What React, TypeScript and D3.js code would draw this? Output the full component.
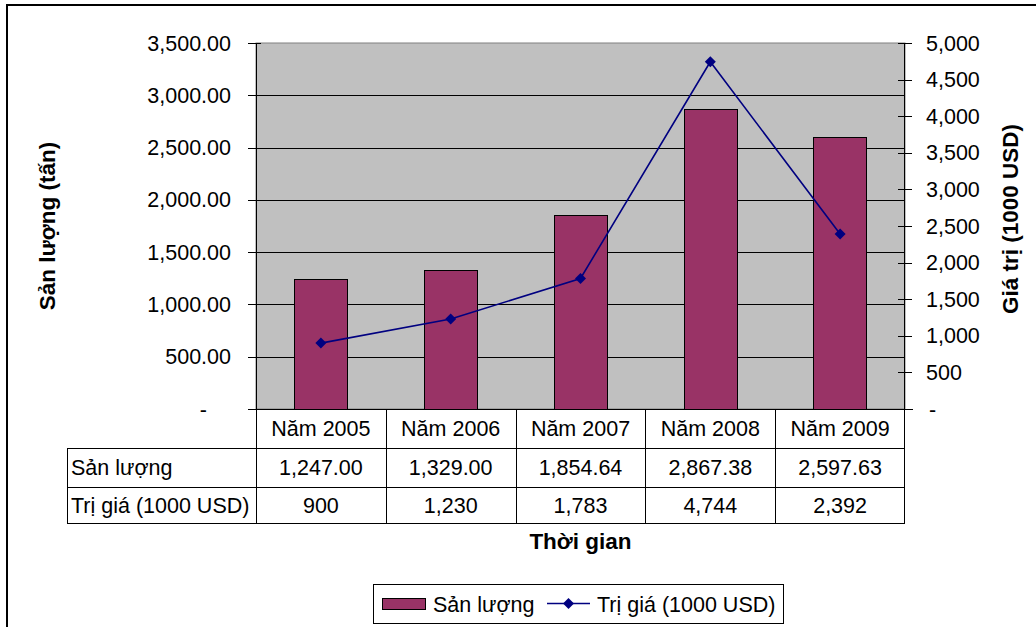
import React from "react";
import * as d3 from "d3";

const categories = ["Năm 2005", "Năm 2006", "Năm 2007", "Năm 2008", "Năm 2009"];
const sanLuong = [1247.0, 1329.0, 1854.64, 2867.38, 2597.63];
const triGia = [900, 1230, 1783, 4744, 2392];
const leftTicks = [0, 500, 1000, 1500, 2000, 2500, 3000, 3500];
const rightTicks = [0, 500, 1000, 1500, 2000, 2500, 3000, 3500, 4000, 4500, 5000];
const rowLabels = ["Sản lượng", "Trị giá (1000 USD)"];

const W = 1036;
const H = 627;
const FONT = "'Liberation Sans', Arial, sans-serif";
const FS = 21.5;
const FSB = 22.5;

const App: React.FC = () => {
  const plot = { left: 256, right: 905, top: 43, bottom: 409 };
  const rowH = [39, 39, 36];
  const tableLeft = 67;

  const x = d3.scaleBand<string>().domain(categories).range([plot.left, plot.right]).padding(0);
  const barW = x.bandwidth() * 0.41;
  const yL = d3.scaleLinear().domain([0, 3500]).range([plot.bottom, plot.top]);
  const yR = d3.scaleLinear().domain([0, 5000]).range([plot.bottom, plot.top]);

  const fmtL = (v: number) => (v === 0 ? "-" : d3.format(",.2f")(v));
  const fmtR = (v: number) => (v === 0 ? "-" : d3.format(",")(v));

  const line = d3
    .line<number>()
    .x((_, i) => (x(categories[i]) as number) + x.bandwidth() / 2)
    .y((d) => yR(d));

  const rowTops = [plot.bottom, plot.bottom + rowH[0], plot.bottom + rowH[0] + rowH[1]];
  const tableBottom = rowTops[2] + rowH[2];

  const diamond = (cx: number, cy: number, r: number) =>
    `M${cx},${cy - r}L${cx + r},${cy}L${cx},${cy + r}L${cx - r},${cy}Z`;

  return (
    <svg
      width={W}
      height={H}
      style={{ position: "absolute", left: 0, top: 0, display: "block" }}
      fontFamily={FONT}
    >
      <rect x={0} y={0} width={W} height={H} fill="#fff" />
      <rect x={7} y={5} width={1060} height={660} fill="#fff" stroke="#000" strokeWidth={2} />

      {/* plot area */}
      <rect
        x={plot.left}
        y={plot.top}
        width={plot.right - plot.left}
        height={plot.bottom - plot.top}
        fill="#C0C0C0"
        stroke="#808080"
        strokeWidth={1}
      />
      {leftTicks
        .filter((t) => t > 0 && t < 3500)
        .map((t) => (
          <line key={"g" + t} x1={plot.left} x2={plot.right} y1={Math.round(yL(t)) + 0.5} y2={Math.round(yL(t)) + 0.5} stroke="#000" />
        ))}

      {/* bars */}
      {sanLuong.map((v, i) => {
        const cx = (x(categories[i]) as number) + x.bandwidth() / 2;
        return (
          <rect
            key={"b" + i}
            x={Math.round(cx - barW / 2) + 0.5}
            y={Math.round(yL(v)) + 0.5}
            width={Math.round(barW)}
            height={Math.round(plot.bottom - yL(v))}
            fill="#993366"
            stroke="#000"
            strokeWidth={1}
          />
        );
      })}

      {/* line */}
      <path d={line(triGia) ?? ""} fill="none" stroke="#000080" strokeWidth={1.6} />
      {triGia.map((v, i) => (
        <path
          key={"m" + i}
          d={diamond((x(categories[i]) as number) + x.bandwidth() / 2, yR(v), 5.5)}
          fill="#000080"
        />
      ))}

      {/* left axis */}
      <line x1={plot.left + 0.5} x2={plot.left + 0.5} y1={plot.top} y2={plot.bottom} stroke="#000" />
      {leftTicks.map((t) => (
        <g key={"l" + t}>
          <line x1={plot.left - 8} x2={plot.left + 5} y1={Math.round(yL(t)) + 0.5} y2={Math.round(yL(t)) + 0.5} stroke="#000" />
          <text
            x={t === 0 ? 207 : 231}
            y={yL(t)}
            dy="0.35em"
            textAnchor="end"
            fontSize={FS}
          >
            {fmtL(t)}
          </text>
        </g>
      ))}

      {/* right axis */}
      <line x1={plot.right - 0.5} x2={plot.right - 0.5} y1={plot.top} y2={plot.bottom} stroke="#000" />
      {rightTicks.map((t) => (
        <g key={"r" + t}>
          <line x1={plot.right - 7} x2={plot.right + 7} y1={Math.round(yR(t)) + 0.5} y2={Math.round(yR(t)) + 0.5} stroke="#000" />
          <text x={t === 0 ? 929 : 926} y={yR(t)} dy="0.35em" textAnchor="start" fontSize={FS}>
            {fmtR(t)}
          </text>
        </g>
      ))}

      {/* data table */}
      <g stroke="#000" strokeWidth={1}>
        <line x1={plot.left - 8} x2={plot.right + 8} y1={plot.bottom + 0.5} y2={plot.bottom + 0.5} />
        <line x1={tableLeft} x2={plot.right} y1={rowTops[1] + 0.5} y2={rowTops[1] + 0.5} />
        <line x1={tableLeft} x2={plot.right} y1={rowTops[2] + 0.5} y2={rowTops[2] + 0.5} />
        <line x1={tableLeft} x2={plot.right} y1={tableBottom + 0.5} y2={tableBottom + 0.5} />
        <line x1={tableLeft + 0.5} x2={tableLeft + 0.5} y1={rowTops[1]} y2={tableBottom} />
        {categories.map((c) => (
          <line
            key={"v" + c}
            x1={Math.round(x(c) as number) + 0.5}
            x2={Math.round(x(c) as number) + 0.5}
            y1={plot.bottom}
            y2={tableBottom}
          />
        ))}
        <line x1={plot.right - 0.5} x2={plot.right - 0.5} y1={plot.bottom} y2={tableBottom} />
      </g>
      {categories.map((c, i) => {
        const cx = (x(c) as number) + x.bandwidth() / 2;
        return (
          <g key={"t" + c} fontSize={FS} textAnchor="middle">
            <text x={cx} y={rowTops[0] + rowH[0] / 2} dy="0.35em">
              {c}
            </text>
            <text x={cx} y={rowTops[1] + rowH[1] / 2} dy="0.35em">
              {d3.format(",.2f")(sanLuong[i])}
            </text>
            <text x={cx} y={rowTops[2] + rowH[2] / 2} dy="0.35em">
              {d3.format(",")(triGia[i])}
            </text>
          </g>
        );
      })}
      {rowLabels.map((l, i) => (
        <text key={l} x={tableLeft + 4} y={rowTops[i + 1] + rowH[i + 1] / 2} dy="0.35em" fontSize={FS}>
          {l}
        </text>
      ))}

      {/* axis titles */}
      <text
        transform={`translate(47,${(plot.top + plot.bottom) / 2}) rotate(-90)`}
        textAnchor="middle"
        dy="0.35em"
        fontSize={FSB}
        fontWeight="bold"
      >
        Sản lượng (tấn)
      </text>
      <text
        transform={`translate(1010,219) rotate(-90)`}
        textAnchor="middle"
        dy="0.35em"
        fontSize={FSB}
        fontWeight="bold"
      >
        Giá trị (1000 USD)
      </text>
      <text x={(plot.left + plot.right) / 2} y={541} dy="0.35em" textAnchor="middle" fontSize={FSB} fontWeight="bold">
        Thời gian
      </text>

      {/* legend */}
      <rect x={373.5} y={584.5} width={410} height={39} fill="#fff" stroke="#000" />
      <rect x={382.5} y={598.5} width={43} height={11} fill="#993366" stroke="#000" />
      <text x={433} y={604} dy="0.35em" fontSize={FS}>
        Sản lượng
      </text>
      <line x1={547} x2={590} y1={603.5} y2={603.5} stroke="#000080" strokeWidth={1.6} />
      <path d={diamond(568.5, 603.5, 5.5)} fill="#000080" />
      <text x={597} y={604} dy="0.35em" fontSize={FS}>
        Trị giá (1000 USD)
      </text>
    </svg>
  );
};

export default App;
